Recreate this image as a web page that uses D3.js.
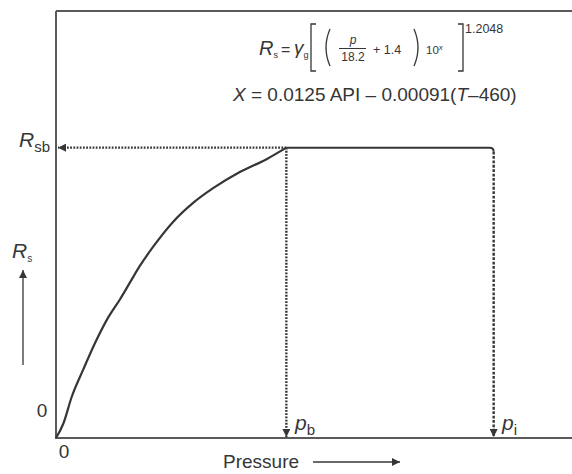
<!DOCTYPE html>
<html>
<head>
<meta charset="utf-8">
<script src="https://cdn.jsdelivr.net/npm/d3@7"></script>
<style>
  html, body { margin: 0; padding: 0; background: #fff; }
  svg { display: block; font-family: "Liberation Sans", Arial, sans-serif; }
</style>
</head>
<body>
<svg id="chart" width="572" height="474"></svg>
<script>
// Solution gas–oil ratio vs pressure (schematic)
const pressure = [0, 16, 34, 59, 85, 110, 139, 161, 182, 211, 254, 297, 341, 399, 457, 500];
const rs       = [0, 3.4, 9.6, 16, 22.3, 27.6, 32.5, 36.5, 40.3, 44.8, 50.6, 55.0, 58.5, 62.3, 65.3, 68];
const bubblePressure = 500;   // p_b
const initialPressure = 950;  // p_i
const rsb = 68;               // R_sb
const axisLabels = { x0: "0", y0: "0", xTitle: "Pressure" };

const svg = d3.select("#chart");
const ink = "#363636", axisCol = "#5a5a5a";

const x = d3.scaleLinear().domain([0, 1120]).range([56, 572]);
const y = d3.scaleLinear().domain([0, 100]).range([438, 11]);

// arrowhead markers
const defs = svg.append("defs");
function marker(id, size) {
  defs.append("marker")
    .attr("id", id).attr("viewBox", "0 0 10 10")
    .attr("refX", 10).attr("refY", 5)
    .attr("markerWidth", size).attr("markerHeight", size)
    .attr("markerUnits", "userSpaceOnUse")
    .attr("orient", "auto")
    .append("path").attr("d", "M0,0 L10,5 L0,10 Z").attr("fill", ink);
}
marker("arrow", 8);
marker("arrowSmall", 8);

// frame: left axis, bottom axis, top rule
const frame = svg.append("g").attr("stroke", axisCol).attr("stroke-width", 2).attr("fill", "none");
frame.append("path").attr("d", `M${x(0)},${y(100)} L${x(0)},${y(0)} L572,${y(0)}`);
frame.append("line").attr("x1", x(0)).attr("x2", 572).attr("y1", y(100)).attr("y2", y(100));

// R_s curve up to bubble point
svg.append("path")
  .datum(rs)
  .attr("d", d3.line().x((d, i) => x(pressure[i])).y(d => y(d)).curve(d3.curveMonotoneX))
  .attr("fill", "none").attr("stroke", ink).attr("stroke-width", 2.2)
  .attr("stroke-linejoin", "round");

// constant R_s above bubble point, turning down at p_i
const r = 4;
svg.append("path")
  .attr("d", `M${x(bubblePressure)},${y(rsb)} L${x(initialPressure) - r},${y(rsb)} Q${x(initialPressure)},${y(rsb)} ${x(initialPressure)},${y(rsb) + r}`)
  .attr("fill", "none").attr("stroke", ink).attr("stroke-width", 2);

// dotted guide to R_sb on the y axis
svg.append("line")
  .attr("x1", x(bubblePressure)).attr("y1", y(rsb))
  .attr("x2", x(0) + 2).attr("y2", y(rsb))
  .attr("stroke", ink).attr("stroke-width", 2.4).attr("stroke-dasharray", "1.8,1.4")
  .attr("marker-end", "url(#arrow)");

// dotted drop to p_b
svg.append("line")
  .attr("x1", x(bubblePressure)).attr("y1", y(rsb))
  .attr("x2", x(bubblePressure)).attr("y2", y(0) - 1)
  .attr("stroke", ink).attr("stroke-width", 2.4).attr("stroke-dasharray", "1.8,1.4")
  .attr("marker-end", "url(#arrow)");

// dashed drop to p_i
svg.append("line")
  .attr("x1", x(initialPressure)).attr("y1", y(rsb) + r)
  .attr("x2", x(initialPressure)).attr("y2", y(0) - 1)
  .attr("stroke", ink).attr("stroke-width", 2.4).attr("stroke-dasharray", "2.8,1.6")
  .attr("marker-end", "url(#arrow)");

// axis labels
const lbl = svg.append("g").attr("fill", ink);
lbl.append("text").attr("x", 42).attr("y", 417).attr("font-size", 19).attr("text-anchor", "middle").text(axisLabels.y0);
lbl.append("text").attr("x", 64).attr("y", 458).attr("font-size", 19).attr("text-anchor", "middle").text(axisLabels.x0);

// R_sb
const tRsb = lbl.append("text").attr("x", 19).attr("y", 147).attr("font-size", 21);
tRsb.append("tspan").attr("font-style", "italic").text("R");
tRsb.append("tspan").attr("font-size", 15).attr("dy", 5).text("sb");

// p_b and p_i
const tPb = lbl.append("text").attr("x", 295).attr("y", 430).attr("font-size", 21);
tPb.append("tspan").attr("font-style", "italic").text("p");
tPb.append("tspan").attr("font-size", 15).attr("dy", 5).text("b");
const tPi = lbl.append("text").attr("x", 502).attr("y", 430).attr("font-size", 21);
tPi.append("tspan").attr("font-style", "italic").text("p");
tPi.append("tspan").attr("font-size", 15).attr("dy", 5).text("i");

// R_s with upward arrow
const tRs = lbl.append("text").attr("x", 12).attr("y", 258).attr("font-size", 21);
tRs.append("tspan").attr("font-style", "italic").text("R");
tRs.append("tspan").attr("font-size", 10).attr("dy", 4).text("s");
svg.append("line").attr("x1", 23).attr("y1", 365).attr("x2", 23).attr("y2", 270)
  .attr("stroke", axisCol).attr("stroke-width", 1.6).attr("marker-end", "url(#arrowSmall)");

// x title with arrow
lbl.append("text").attr("x", 223).attr("y", 468).attr("font-size", 19).text(axisLabels.xTitle);
svg.append("line").attr("x1", 313).attr("y1", 462).attr("x2", 400).attr("y2", 462)
  .attr("stroke", ink).attr("stroke-width", 1.6).attr("marker-end", "url(#arrowSmall)");

// correlation formula
const f = svg.append("g").attr("fill", ink);
const l1 = f.append("text").attr("x", 259).attr("y", 55).attr("font-size", 20);
l1.append("tspan").attr("font-style", "italic").text("R");
l1.append("tspan").attr("font-size", 9).attr("dy", 3).text("s");
f.append("text").attr("x", 281).attr("y", 55).attr("font-size", 16).text("=");
const gam = f.append("text").attr("x", 294).attr("y", 54).attr("font-size", 19);
gam.append("tspan").attr("font-style", "italic").text("γ");
gam.append("tspan").attr("font-size", 9).attr("dy", 4).text("g");

const br = f.append("g").attr("fill", "none").attr("stroke", ink).attr("stroke-width", 1.3);
br.append("path").attr("d", "M316,24 L311,24 L311,71 L316,71");
br.append("path").attr("d", "M458,24 L463,24 L463,71 L458,71");
br.append("path").attr("d", "M330,29 Q322,47.5 330,66");
br.append("path").attr("d", "M414,29 Q422,47.5 414,66");
br.append("line").attr("x1", 339).attr("x2", 366).attr("y1", 48.5).attr("y2", 48.5).attr("stroke-width", 1);

f.append("text").attr("x", 353).attr("y", 44).attr("font-size", 12).attr("font-style", "italic").attr("text-anchor", "middle").text("p");
f.append("text").attr("x", 353).attr("y", 61).attr("font-size", 12).attr("text-anchor", "middle").text("18.2");
f.append("text").attr("x", 373).attr("y", 54).attr("font-size", 12.5).text("+ 1.4");
const ten = f.append("text").attr("x", 426).attr("y", 54).attr("font-size", 11.5);
ten.append("tspan").text("10");
ten.append("tspan").attr("font-size", 8).attr("font-style", "italic").attr("dy", -4).text("x");
f.append("text").attr("x", 465).attr("y", 33).attr("font-size", 12.5).text("1.2048");

const l2 = f.append("text").attr("x", 233).attr("y", 101).attr("font-size", 19);
l2.append("tspan").attr("font-style", "italic").text("X");
l2.append("tspan").text(" = 0.0125 API – 0.00091(");
l2.append("tspan").attr("font-style", "italic").text("T");
l2.append("tspan").text("–460)");
</script>
</body>
</html>
